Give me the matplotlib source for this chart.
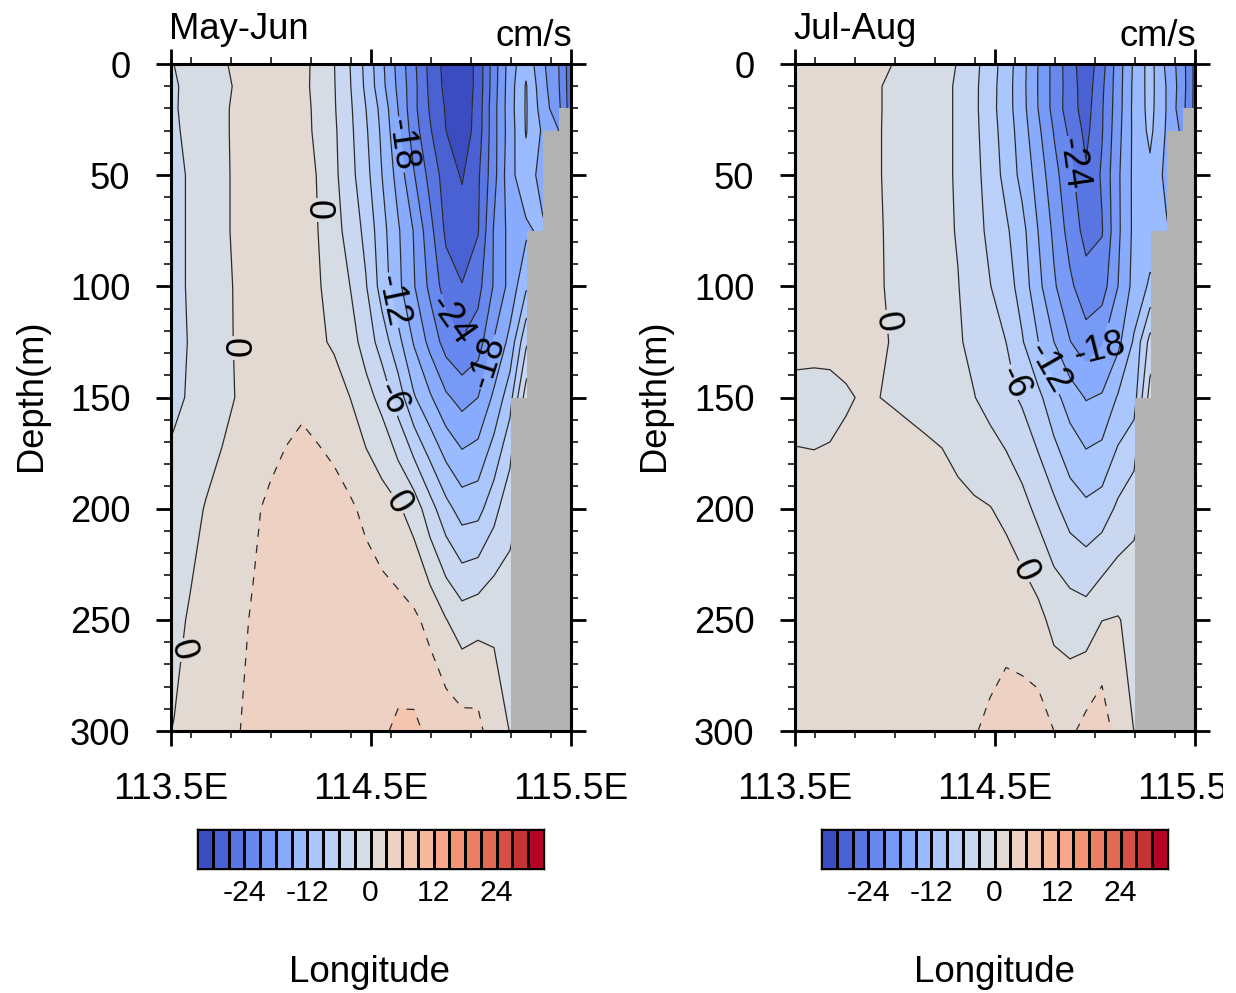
import numpy as np
import matplotlib
matplotlib.use("Agg")
import matplotlib.pyplot as plt
from matplotlib.colors import BoundaryNorm, ListedColormap
from matplotlib.transforms import Bbox

plt.rcParams['font.family'] = ['Liberation Sans', 'DejaVu Sans']

W, H = 1236, 993
lon = [113.435, 113.515, 113.595, 113.675, 113.755, 113.835, 113.915, 113.995, 114.075,
       114.155, 114.235, 114.315, 114.395, 114.475, 114.555, 114.635, 114.715, 114.795,
       114.875, 114.955, 115.035, 115.115, 115.195, 115.275, 115.355, 115.435, 115.515]
depth = [0, 10, 20, 30, 50, 75, 100, 125, 150, 200, 250, 300]
levels = [-30, -27, -24, -21, -18, -15, -12, -9, -6, -3, 0, 3, 6, 9, 12, 15, 18, 21, 24, 27, 30]

may_jun = [
 [-4.5,-3.0,-2.4,-1.7,-0.4,0.7,1.0,1.3,1.3,0.9,-0.9,-2.9,-6.0,-9.8,-14.4,-18.9,-23.4,-27.9,-31.0,-32.5,-29.0,-22.4,-16.5,-12.8,-17.3,-20.7,-27.0],
 [-4.5,-3.25,-2.4,-1.6,-0.7,0.4,1.1,1.3,1.2,0.8,-0.9,-2.8,-5.8,-9.6,-14.1,-18.6,-23.1,-27.7,-30.8,-32.3,-29.0,-22.3,-16.3,-11.75,-16.8,-20.5,-27.0],
 [-4.5,-3.2,-2.4,-1.4,-0.5,0.6,1.1,1.3,1.2,0.8,-0.6,-2.7,-5.5,-9.0,-13.0,-18.0,-23.2,-27.3,-30.3,-32.2,-28.7,-22.0,-16.2,-11.7,-16.2,-20.0,-27.0],
 [-4.5,-3.25,-2.6,-1.6,-0.5,0.6,1.0,1.3,1.2,0.8,-0.5,-2.5,-5.3,-8.6,-12.6,-17.4,-22.6,-26.7,-30.0,-32.0,-28.6,-22.0,-16.4,-11.8,-15.3,-17.8,-24.0],
 [-4.5,-3.5,-2.8,-1.8,-0.5,0.5,1.0,1.3,1.3,0.8,-0.1,-2.3,-5.0,-8.0,-12.0,-16.1,-20.8,-25.0,-28.4,-30.3,-27.5,-22.0,-15.9,-13.0,-16.3,-18.0,-20.0],
 [-4.3,-3.5,-2.8,-1.9,-0.5,0.5,1.0,1.3,1.3,0.8,0.0,-1.9,-4.1,-6.8,-10.9,-14.6,-18.2,-23.0,-27.6,-28.5,-27.2,-20.7,-17.0,-15.6,-14.3,-17.0,-20.0],
 [-4.2,-3.5,-2.8,-2.0,-0.8,0.4,1.0,1.3,1.3,1.0,0.3,-1.3,-3.0,-5.8,-10.3,-14.2,-17.8,-21.7,-25.5,-26.9,-25.0,-20.7,-17.0,-12.5,-12.0,-12.0,-12.0],
 [-4.0,-3.5,-2.9,-2.2,-0.7,0.3,0.9,1.3,1.5,1.3,0.5,-0.4,-1.8,-4.2,-7.4,-11.0,-15.3,-18.9,-22.3,-23.8,-22.5,-17.8,-14.1,-6.6,-3.0,-3.0,-3.0],
 [-4.0,-3.4,-2.8,-2.0,-0.8,0.2,1.0,1.7,2.3,2.6,2.0,1.4,0.0,-2.0,-3.9,-7.4,-11.7,-14.6,-17.5,-19.1,-18.0,-14.4,-10.2,-1.5,-1.0,-1.0,-1.0],
 [-2.5,-2.0,-1.0,0.2,1.0,1.8,2.7,3.4,3.9,4.3,4.4,4.0,3.4,2.4,1.4,0.4,-1.3,-4.8,-8.0,-10.3,-10.0,-7.1,-3.6,-2.5,-2.5,-2.5,-2.5],
 [-1.5,-0.8,0.3,1.2,2.0,2.6,3.2,3.9,4.3,4.6,4.8,4.9,4.8,4.6,4.3,4.0,3.5,2.2,0.1,-1.5,-0.9,-0.3,-2.0,-2.0,-2.0,-2.0,-2.0],
 [-0.5,0.1,1.1,1.7,2.3,2.9,3.6,4.2,4.6,4.9,5.0,5.1,5.2,5.4,5.6,6.5,6.6,5.4,4.8,4.2,4.0,0.9,-0.05,-1.0,-1.0,-1.0,-1.0],
]

jul_aug = [
 [0.7,0.9,1.0,1.1,1.0,0.9,0.8,-0.1,-0.8,-1.5,-2.3,-3.1,-5.1,-7.6,-10.4,-13.9,-18.0,-22.0,-25.7,-29.0,-25.2,-19.5,-14.5,-10.8,-15.5,-19.6,-26.0],
 [0.7,0.9,1.0,1.0,0.9,0.7,0.2,-0.6,-1.1,-1.7,-2.4,-3.3,-5.3,-7.8,-10.6,-14.0,-18.1,-22.0,-25.5,-28.7,-24.6,-19.4,-14.3,-10.9,-15.0,-19.5,-26.0],
 [0.7,0.9,1.0,1.0,0.9,0.7,0.2,-0.6,-1.1,-1.7,-2.4,-3.3,-5.3,-7.9,-10.6,-13.9,-18.0,-22.0,-25.7,-28.3,-24.3,-19.3,-14.2,-11.0,-15.0,-19.8,-26.0],
 [0.7,0.9,1.0,1.0,0.9,0.7,0.2,-0.7,-1.2,-1.8,-2.4,-3.3,-5.2,-7.7,-10.3,-13.5,-17.3,-21.2,-24.7,-27.8,-24.2,-19.0,-14.3,-11.3,-15.2,-18.6,-26.0],
 [0.7,0.9,1.0,1.1,1.0,0.7,0.2,-0.7,-1.2,-1.8,-2.4,-3.3,-5.0,-7.3,-9.9,-12.9,-16.1,-20.0,-23.1,-26.6,-23.6,-18.5,-14.3,-12.7,-15.7,-18.0,-24.0],
 [0.6,0.8,0.9,1.0,0.9,0.7,0.2,-0.4,-1.0,-1.6,-2.3,-3.2,-4.8,-6.7,-8.5,-11.0,-15.0,-18.6,-22.2,-25.0,-24.2,-18.6,-14.3,-13.5,-14.6,-17.0,-20.0],
 [0.5,0.7,0.8,0.8,0.7,0.5,0.25,-0.4,-0.8,-1.7,-2.5,-2.9,-4.4,-5.9,-7.6,-10.2,-14.1,-17.6,-20.4,-22.8,-22.4,-18.0,-14.0,-11.5,-12.0,-12.0,-12.0],
 [0.5,0.6,0.7,0.6,0.6,0.45,0.3,-0.15,-0.8,-1.5,-2.2,-2.7,-3.7,-5.0,-6.0,-8.7,-11.9,-15.0,-17.9,-19.8,-18.3,-15.8,-11.6,-5.0,-3.0,-3.0,-3.0],
 [-0.5,-0.6,-0.8,-0.6,-0.2,0.15,0.03,-0.2,-0.5,-0.8,-1.0,-1.5,-2.9,-4.0,-5.1,-6.4,-8.2,-11.0,-13.4,-15.2,-14.7,-11.7,-10.3,-1.8,-1.0,-1.0,-1.0],
 [0.6,0.76,0.9,0.9,1.0,1.2,1.5,1.8,1.8,1.6,1.2,0.6,0.4,0.1,-0.7,-2.0,-3.7,-5.3,-7.3,-8.3,-7.6,-5.4,-3.8,-2.0,-2.0,-2.0,-2.0],
 [1.6,1.7,1.8,1.9,2.0,2.1,2.2,2.2,2.3,2.3,2.3,2.3,2.3,2.3,2.4,1.8,0.9,-0.9,-1.3,-1.6,-0.05,0.2,-1.0,-2.0,-2.0,-2.0,-2.0],
 [1.8,1.9,2.0,2.1,2.2,2.3,2.3,2.4,2.5,2.6,2.7,2.8,2.9,3.3,3.8,4.2,4.3,3.0,2.4,4.0,5.1,1.4,-0.02,-1.0,-1.0,-1.0,-1.0],
]

# land mask: stepped seabed
coast_lon = [115.2, 115.28, 115.36, 115.44, 115.5]
coast_top = [150, 75, 30, 20, 20]

# contour labels: level, lon, depth, rotation on screen
labels_may = [(-18, 114.625, 36.4, -82), (0, 114.22, 65.7, -90), (0, 113.81, 127.8, -90),
              (-12, 114.62, 106, -78), (-24, 114.905, 115, -55), (-18, 115.105, 134.5, 72),
              (-6, 114.62, 150, -65), (0, 114.64, 197, -60), (0, 113.56, 263.6, -75)]
labels_jul = [(-24, 114.85, 45.4, -82), (0, 113.955, 116, -80), (-18, 114.985, 125, 14),
              (-12, 114.765, 136.8, -60), (-6, 114.575, 143.5, -65), (0, 114.64, 228.5, -65)]

x_major = [113.5, 114.5, 115.5]
x_major_labels = ['113.5E', '114.5E', '115.5E']
x_minor = [113.6, 113.8, 114.0, 114.2, 114.4, 114.6, 114.8, 115.0, 115.2, 115.4]
y_major = [0, 50, 100, 150, 200, 250, 300]
y_minor = [10, 20, 30, 40, 60, 70, 80, 90, 110, 120, 130, 140, 160, 170, 180, 190,
           210, 220, 230, 240, 260, 270, 280, 290]
cb_ticks = [-24, -12, 0, 12, 24]

colors = [plt.cm.coolwarm(i / 21) for i in range(22)]
cb_edges = [-33] + levels + [33]
PX = 72 / 100
TEXT = 36.4 * PX
TICK_X = 37.3 * PX
TICK_Y = 36.2 * PX


def axes_px(fig, x0, y0, x1, y1):
    return fig.add_axes([x0 / W, 1 - y1 / H, (x1 - x0) / W, (y1 - y0) / H])


def panel(fig, x0, data, labels, title, cb_x0, cb_x1):
    ax = axes_px(fig, x0, 64, x0 + 400, 731)
    z = np.array(data)
    cf = ax.contourf(lon, depth, z, levels=levels, colors=colors, extend='both', zorder=1)
    cf.set_edgecolor('face')
    cf.set_linewidth(0.3)
    ax.set_xlim(113.5, 115.5)
    ax.set_ylim(300, 0)
    labelled = sorted({lab[0] for lab in labels})
    for lv in levels:
        style = 'solid' if lv <= 0 else (0, (6.5, 6.5))
        cs = ax.contour(lon, depth, z, levels=[lv], colors='#2b2b2b', linewidths=0.9,
                        linestyles=[style], zorder=2)
        if lv in labelled:
            here = [lab for lab in labels if lab[0] == lv]
            txt = cs.clabel(manual=[(lab[1], lab[2]) for lab in here], inline=True,
                            inline_spacing=2, fontsize=26, fmt='%d', colors='k')
            for t, lab in zip(txt, here):
                t.set_transform_rotates_text(False)
                t.set_rotation(lab[3])
                t.set_zorder(6)
    ax.fill_between(coast_lon, coast_top, 300, step='post', color='#b2b2b2', lw=0, zorder=3)
    ax.set_xlim(113.5, 115.5)
    ax.set_ylim(300, 0)
    ax.set_xticks(x_major, x_major_labels)
    ax.set_xticks(x_minor, minor=True)
    ax.set_yticks(y_major)
    ax.set_yticks(y_minor, minor=True)
    ax.tick_params(axis='both', which='major', length=15 * PX, width=2.0,
                   direction='out', top=True, right=True)
    ax.tick_params(axis='both', which='minor', length=7 * PX, width=1.1,
                   direction='out', top=True, right=True)
    ax.tick_params(axis='x', which='major', pad=18.5, labelsize=TICK_X)
    ax.tick_params(axis='y', which='major', pad=18.5, labelsize=TICK_Y)
    for s in ax.spines.values():
        s.set_linewidth(2.2)
        s.set_zorder(5)
    for t in ax.get_xticklabels():
        t.set_clip_box(Bbox([[0, 0], [1223, H]]))
        t.set_clip_on(True)
    fig.text((x0 - 2) / W, 1 - 39 / H, title, fontsize=TEXT, ha='left', va='baseline')
    fig.text((x0 + 401) / W, 1 - 46 / H, 'cm/s', fontsize=TEXT, ha='right', va='baseline')
    fig.text((x0 - 140) / W, 1 - 395 / H, 'Depth(m)', fontsize=TEXT, rotation=90,
             ha='center', va='center')
    fig.text((x0 + 199) / W, 1 - 982 / H, 'Longitude', fontsize=36.7 * PX, ha='center', va='baseline')

    cax = axes_px(fig, cb_x0, 829, cb_x1, 869)
    norm = BoundaryNorm(cb_edges, 22)
    cax.pcolormesh(cb_edges, [0, 1], [[v for v in cb_edges[:-1]]],
                   cmap=ListedColormap(colors), norm=norm, edgecolors='k', linewidth=0.9)
    cax.set_xlim(-33, 33)
    cax.set_yticks([])
    cax.set_xticks(cb_ticks, [str(v) for v in cb_ticks])
    cax.tick_params(axis='x', length=0, pad=7.5, labelsize=21.7)
    for s in cax.spines.values():
        s.set_linewidth(1.0)


fig = plt.figure(figsize=(W / 100, H / 100), dpi=100)
panel(fig, 171, may_jun, labels_may, 'May-Jun', 197, 544)
panel(fig, 795, jul_aug, labels_jul, 'Jul-Aug', 821, 1168)
fig.savefig('out.png', dpi=100)
